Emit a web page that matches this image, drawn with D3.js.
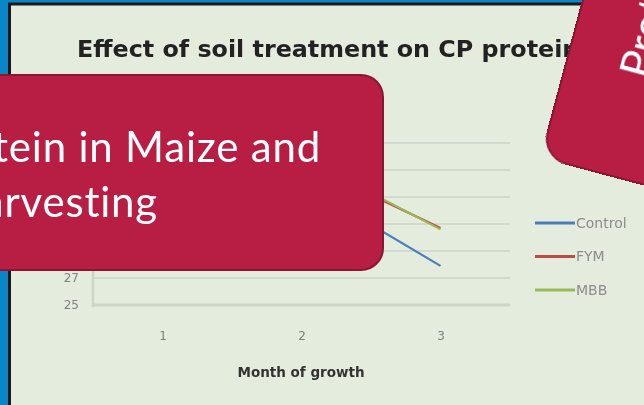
<!DOCTYPE html>
<html>
<head>
<meta charset="utf-8">
<script src="https://cdn.jsdelivr.net/npm/d3@7"></script>
<style>
  html, body { margin: 0; padding: 0; overflow: hidden; background: #e4ecdd; }
  svg { display: block; }
</style>
</head>
<body>
<script>
var w = 644,
  h = 405;

// chart data
var months = ['1', '2', '3'];
var seriesNames = ['Control', 'FYM', 'MBB'];
var control = [31.5, 34.0, 27.9];
var fym = [32.6, 35.6, 30.7];
var mbb = [33.0, 36.0, 30.6];
var yTicks = [25, 27, 29, 31, 33, 35, 37];
var colors = ['#4a7ebb', '#be4b48', '#98b954'];

var series = [control, fym, mbb];
var chartFont = 'DejaVu Sans, Verdana, sans-serif';

var svg = d3.select('body').append('svg')
  .attr('width', w)
  .attr('height', h);

var defs = svg.append('defs');
defs.append('filter')
  .attr('id', 'soft')
  .append('feGaussianBlur')
  .attr('stdDeviation', 0.7);

// slide background and frame
svg.append('rect')
  .attr('width', w)
  .attr('height', h)
  .attr('fill', '#e4ecdd');

svg.append('rect')
  .attr('x', 0).attr('y', 0)
  .attr('width', 8).attr('height', h)
  .attr('fill', '#0a86c8');
svg.append('rect')
  .attr('x', 0).attr('y', 0)
  .attr('width', w).attr('height', 3)
  .attr('fill', '#0a86c8');
svg.append('path')
  .attr('d', 'M9.5,' + h + 'V4H' + w)
  .attr('fill', 'none')
  .attr('stroke', '#1a1a1a')
  .attr('stroke-width', 3);

// chart
var chart = svg.append('g').attr('filter', 'url(#soft)');

var x = d3.scalePoint()
  .domain(months)
  .range([93, 510])
  .padding(0.5);

var y = d3.scaleLinear()
  .domain([25, 37])
  .range([305, 143]);

chart.append('text')
  .attr('x', 77)
  .attr('y', 57)
  .attr('font-family', chartFont)
  .attr('font-weight', 'bold')
  .attr('font-size', 23.8)
  .attr('fill', '#222')
  .text('Effect of soil treatment on CP protein in Maize');

chart.append('text')
  .attr('x', 318)
  .attr('y', 84)
  .attr('text-anchor', 'middle')
  .attr('font-family', chartFont)
  .attr('font-weight', 'bold')
  .attr('font-size', 13)
  .attr('fill', '#555')
  .text('in Maize');

chart.selectAll('.grid')
  .data(yTicks)
  .enter()
  .append('line')
  .attr('class', 'grid')
  .attr('x1', 93)
  .attr('x2', 510)
  .attr('y1', function (d) { return y(d); })
  .attr('y2', function (d) { return y(d); })
  .attr('stroke', function (d) { return d === 25 ? '#cdd4c8' : '#d3d9ce'; })
  .attr('stroke-width', function (d) { return d === 25 ? 3 : 2; });

chart.append('line')
  .attr('x1', 93).attr('x2', 93)
  .attr('y1', y(37)).attr('y2', y(25) + 2)
  .attr('stroke', '#cdd4c8')
  .attr('stroke-width', 2.5);

var yAxis = d3.axisLeft(y).tickValues(yTicks).tickSize(0).tickPadding(14);
var gy = chart.append('g')
  .attr('transform', 'translate(93,0)')
  .call(yAxis);
gy.select('.domain').remove();
gy.selectAll('text')
  .attr('font-family', chartFont)
  .attr('font-size', 12)
  .attr('fill', '#808080');

var xAxis = d3.axisBottom(x).tickSize(0).tickPadding(26);
var gx = chart.append('g')
  .attr('transform', 'translate(0,305)')
  .call(xAxis);
gx.select('.domain').remove();
gx.selectAll('text')
  .attr('font-family', chartFont)
  .attr('font-size', 12)
  .attr('fill', '#808080');

chart.append('text')
  .attr('x', 301)
  .attr('y', 377)
  .attr('text-anchor', 'middle')
  .attr('font-family', chartFont)
  .attr('font-weight', 'bold')
  .attr('font-size', 13.5)
  .attr('fill', '#333')
  .text('Month of growth');

var line = d3.line()
  .x(function (d, i) { return x(months[i]); })
  .y(function (d) { return y(d); });

chart.selectAll('.series')
  .data(series)
  .enter()
  .append('path')
  .attr('class', 'series')
  .attr('d', line)
  .attr('fill', 'none')
  .attr('stroke', function (d, i) { return colors[i]; })
  .attr('stroke-width', 2.2);

// legend
var legend = chart.selectAll('.legend')
  .data(seriesNames)
  .enter()
  .append('g')
  .attr('class', 'legend')
  .attr('transform', function (d, i) { return 'translate(535,' + (223 + i * 33.5) + ')'; });

legend.append('line')
  .attr('x1', 0).attr('x2', 40)
  .attr('stroke', function (d, i) { return colors[i]; })
  .attr('stroke-width', 3);

legend.append('text')
  .attr('x', 41)
  .attr('dy', '0.35em')
  .attr('font-family', chartFont)
  .attr('font-size', 14)
  .attr('fill', '#8c8c8c')
  .text(function (d) { return d; });

// overlaid slide boxes
var boxFill = '#b81e43',
  boxStroke = '#8c1533';

var leftBox = svg.append('g');
leftBox.append('rect')
  .attr('x', -40)
  .attr('y', 75)
  .attr('width', 423)
  .attr('height', 195)
  .attr('rx', 22)
  .attr('fill', boxFill)
  .attr('stroke', boxStroke)
  .attr('stroke-width', 2);

leftBox.append('text')
  .attr('x', 321)
  .attr('y', 162)
  .attr('text-anchor', 'end')
  .attr('font-family', 'Lato, sans-serif')
  .attr('font-size', 42)
  .attr('letter-spacing', 0.8)
  .attr('fill', '#fff')
  .text('Crude Protein in Maize and');

leftBox.append('text')
  .attr('x', 158)
  .attr('y', 217)
  .attr('text-anchor', 'end')
  .attr('font-family', 'Lato, sans-serif')
  .attr('font-size', 42)
  .attr('letter-spacing', 0.8)
  .attr('fill', '#fff')
  .text('after harvesting');

var rightBox = svg.append('g')
  .attr('transform', 'translate(541,157) rotate(15)');
rightBox.append('rect')
  .attr('x', 0)
  .attr('y', -500)
  .attr('width', 400)
  .attr('height', 500)
  .attr('rx', 26)
  .attr('fill', boxFill)
  .attr('stroke', boxStroke)
  .attr('stroke-width', 2);

rightBox.append('text')
  .attr('transform', 'translate(84,-102) rotate(-90)')
  .attr('font-family', 'Lato, sans-serif')
  .attr('font-size', 42)
  .attr('letter-spacing', 0.8)
  .attr('fill', '#fff')
  .text('Protein content');
</script>
</body>
</html>
